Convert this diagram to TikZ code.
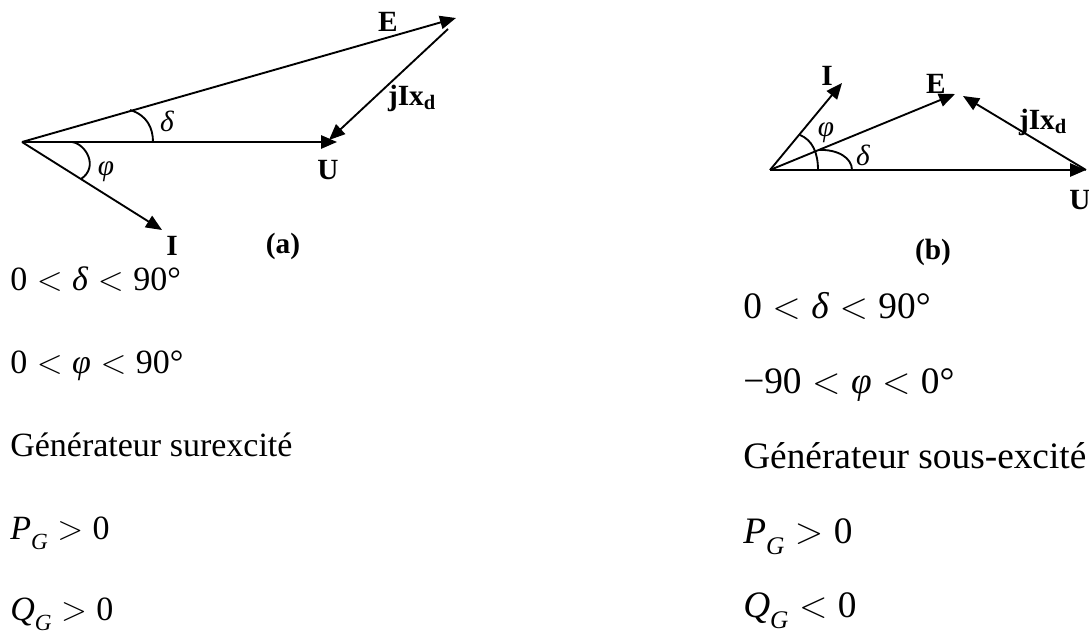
\RequirePackage{fix-cm}
\documentclass[tikz,border=0pt]{standalone}
\usepackage{fontspec}
\setmainfont{Liberation Serif}
\usetikzlibrary{arrows.meta}
\newcommand{\myLT}{\hspace{0.28em}$<$\hspace{0.28em}}
\newcommand{\myGT}{\hspace{0.28em}$>$\hspace{0.28em}}
\newcommand{\mysub}[2]{\textit{#1}\raisebox{-0.3em}{\fontsize{0.68em}{0.68em}\selectfont\textit{#2}}}
\begin{document}
\begin{tikzpicture}[x=0.75pt,y=-0.75pt,
  vec/.style={line width=1.4pt,-{Triangle[length=12pt,width=10pt]}},
  arcl/.style={line width=1.4pt},
  lbl/.style={font=\fontsize{22}{22}\selectfont\bfseries, inner sep=0pt},
  ang/.style={font=\fontsize{22}{22}\selectfont\itshape, inner sep=0pt},
  txtL/.style={anchor=base west, inner sep=0pt, font=\fontsize{25.5}{25.5}\selectfont},
  txtR/.style={anchor=base west, inner sep=0pt, font=\fontsize{28}{28}\selectfont}]
\useasboundingbox (0,0) rectangle (1089,635);

% ---------- diagram (a) ----------
\coordinate (Oa) at (22,142);
\coordinate (Ua) at (337,142);
\coordinate (Ea) at (456,18);
\coordinate (Ia) at (162,230);
\coordinate (Ja) at (448,29);
\coordinate (Ka) at (329,140);
\coordinate (da1) at (130,110);
\coordinate (da2) at (153,142);
\coordinate (pa1) at (72,142);
\coordinate (pa2) at (81,179);

\draw[vec] (Oa) -- (Ua);
\draw[vec] (Oa) -- (Ea);
\draw[vec] (Oa) -- (Ia);
\draw[vec] (Ja) -- (Ka);
\draw[arcl] (da1) .. controls (147,115) and (153,128) .. (da2);
\draw[arcl] (pa1) .. controls (86,144) and (99,167) .. (pa2);

\node[lbl] (lEa) at (388,22) {E};
\node[lbl] (lUa) at (328,170) {U};
\node[lbl] (lIa) at (172,246) {I};
\node[lbl] (lJa) at (412,98) {jIx\textsubscript{d}};
\node[lbl] (lA) at (283,246) {(a)};
\node[ang] (ldA) at (167,121) {δ};
\node[ang] (lpA) at (106,172) {φ};

\node[txtL] (t1) at (10,290) {0\myLT\textit{δ}\myLT 90°};
\node[txtL] (t2) at (10,373) {0\myLT\textit{φ}\myLT 90°};
\node[txtL] (t3) at (10,456) {Générateur surexcité};
\node[txtL] (t4) at (10,539) {\mysub{P}{G}\myGT 0};
\node[txtL] (t5) at (10,620) {\mysub{Q}{G}\myGT 0};

% ---------- diagram (b) ----------
\coordinate (Ob) at (770,170);
\coordinate (Ub) at (1086,170);
\coordinate (Eb) at (955,94);
\coordinate (Jb) at (963,96);
\coordinate (Ib) at (842,83);
\coordinate (pb1) at (800,135);
\coordinate (pb2) at (818,170);
\coordinate (db1) at (818,150);
\coordinate (db2) at (852,170);

\draw[vec] (Ob) -- (Ub);
\draw[vec] (Ob) -- (Eb);
\draw[vec] (Ob) -- (Ib);
\draw[vec] (Ub) -- (Jb);
\draw[arcl] (pb1) .. controls (812,140) and (818,152) .. (pb2);
\draw[arcl] (db1) .. controls (838,149) and (852,158) .. (db2);

\node[lbl] (lEb) at (936,84) {E};
\node[lbl] (lUb) at (1080,200) {U};
\node[lbl] (lIb) at (827,76) {I};
\node[lbl] (lJb) at (1043,122) {jIx\textsubscript{d}};
\node[lbl] (lB) at (933,252) {(b)};
\node[ang] (lpB) at (826,133) {φ};
\node[ang] (ldB) at (863,155) {δ};

\node[txtR] (r1) at (743,318) {0\myLT\textit{δ}\myLT 90°};
\node[txtR] (r2) at (743,393) {−90\myLT\textit{φ}\myLT 0°};
\node[txtR] (r3) at (743,468) {Générateur sous-excité};
\node[txtR] (r4) at (743,543) {\mysub{P}{G}\myGT 0};
\node[txtR] (r5) at (743,617) {\mysub{Q}{G}\myLT 0};
\end{tikzpicture}
\end{document}
